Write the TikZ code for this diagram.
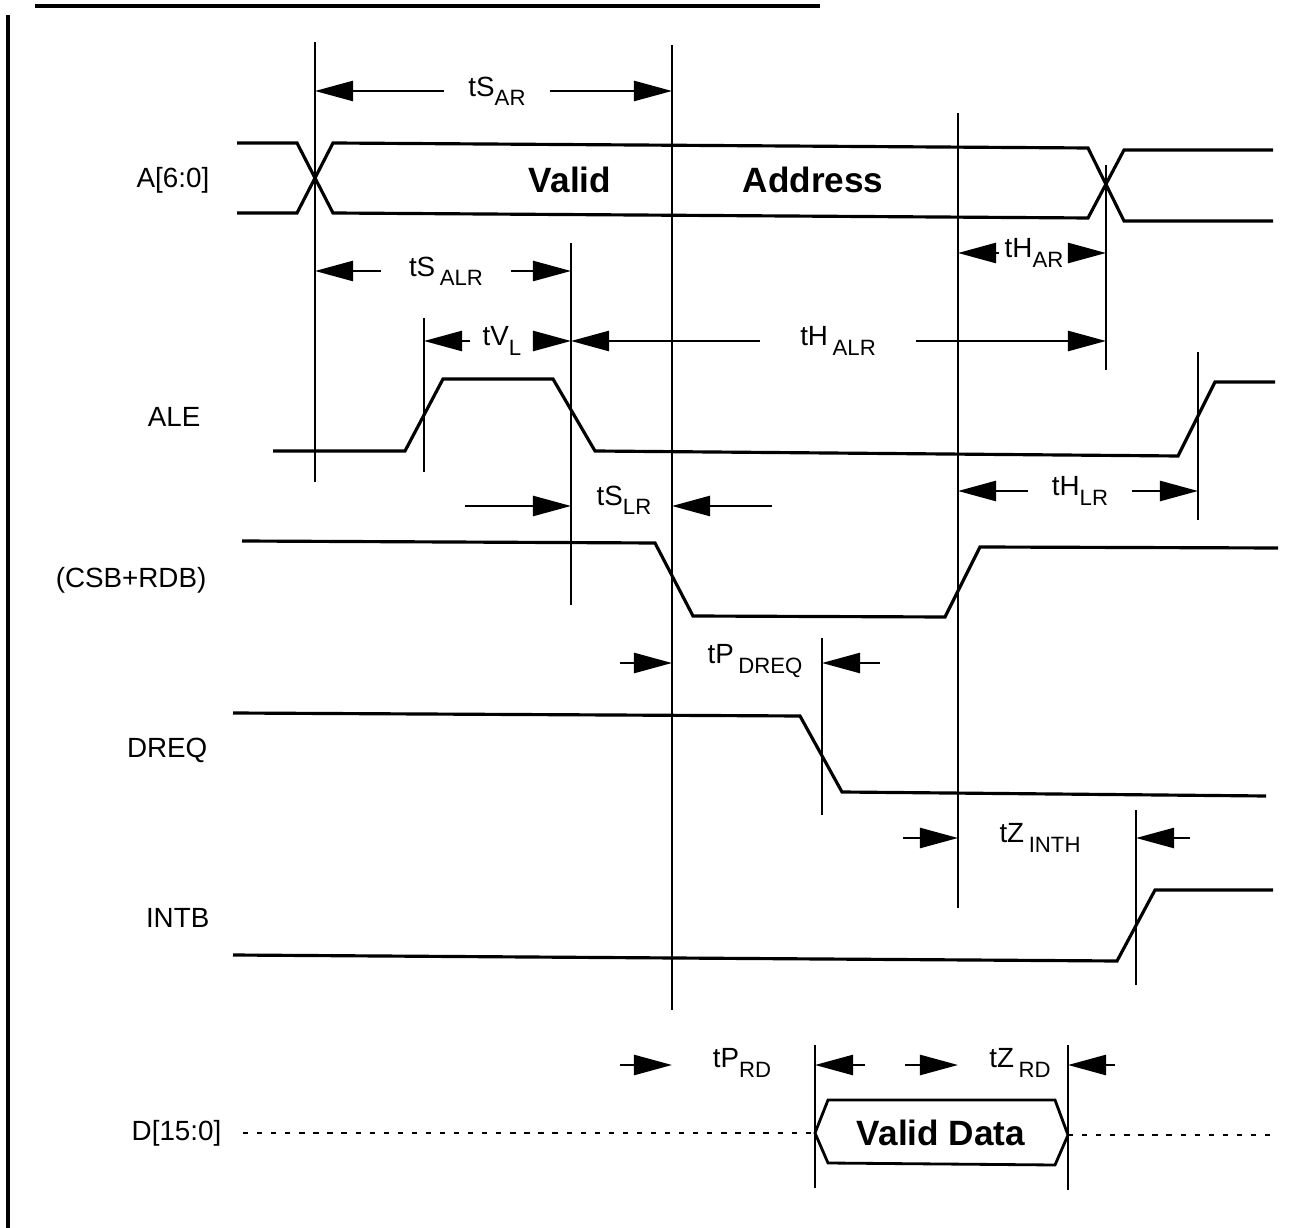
\documentclass[tikz,border=0pt]{standalone}
\usepackage{fontspec}
\setmainfont{Liberation Sans}
\usetikzlibrary{arrows.meta}
\newcommand{\tsub}[1]{\raisebox{-2.6pt}{\fontsize{6.3}{7}\selectfont#1}}

\begin{document}
\begin{tikzpicture}[x=0.01cm,y=-0.01cm,
	wave/.style={line width=0.9pt,line join=miter},
	refline/.style={line width=0.7pt},
	dim/.style={line width=0.7pt,-{Triangle[length=3.8mm,width=2mm]}},
	sig/.style={font=\fontsize{7.9}{9}\selectfont,anchor=east,inner sep=0pt},
	tlbl/.style={font=\fontsize{7.9}{9}\selectfont,inner sep=0pt,minimum width=#1},
	tlbl/.default=0pt,
	big/.style={font=\fontsize{10}{12}\selectfont\bfseries,inner sep=0pt}]
	\useasboundingbox (0,0) rectangle (1300,1228);
	% frame
	\draw[line width=1pt] (8,15) -- (8,1228);
	\draw[line width=1pt] (35,6) -- (820,6);
	% signal names
	\node[sig] (a_lbl) at (210,180) {A[6:0]};
	\node[sig] (ale_lbl) at (201,417) {ALE};
	\node[sig] (csb_lbl) at (207,580) {(CSB+RDB)};
	\node[sig] (dreq_lbl) at (208,750) {DREQ};
	\node[sig] (intb_lbl) at (210,918) {INTB};
	\node[sig] (d_lbl) at (222,1133) {D[15:0]};
	% waveforms
	\draw[wave] (237,143) -- (297,143) -- (333,213) -- (1088,218) -- (1124,150) -- (1273,150);
	\draw[wave] (237,213) -- (297,213) -- (333,143) -- (1088,148) -- (1124,221) -- (1273,221);
	\node[big] (valid) at (570,180) {Valid};
	\node[big] (addr) at (813,180) {Address};
	\draw[wave] (273,451) -- (405,451) -- (443,379) -- (553,379) -- (595,451) -- (1178,456) -- (1215,382) -- (1275,382);
	\draw[wave] (242,541) -- (655,543) -- (693,616) -- (945,617) -- (980,547) -- (1278,548);
	\draw[wave] (233,713) -- (800,716) -- (842,792) -- (1266,796);
	\draw[wave] (233,955) -- (1117,961) -- (1155,890) -- (1273,890);
	\draw[line width=0.5pt,dash pattern=on 1.5pt off 2.5pt] (243,1133) -- (812,1133);
	\draw[line width=0.5pt,dash pattern=on 1.5pt off 2.5pt] (1068,1135) -- (1270,1135);
	\draw[line width=0.8pt] (815,1133) -- (828,1100) -- (1055,1100) -- (1068,1135) -- (1055,1165) -- (828,1163) -- cycle;
	\node[big] (vdata) at (941,1133) {Valid Data};
	% reference lines
	\foreach \n/\x/\ya/\yb in {1/315/42/482, 2/672/45/1010, 3/571/243/605, 4/424/318/472,
		5/958/113/908, 6/1106/165/370, 7/1198/352/520, 8/822/638/815, 9/1136/810/985,
		10/815/1045/1188, 11/1068/1045/1190}
	{
		\coordinate (v_\n) at (\x,\ya);
		\coordinate (v_\n b) at (\x,\yb);
		\draw[refline] (v_\n) -- (v_\n b);
	}
	% timing labels, arrows pointing out
	\node[tlbl=1.05cm] (tsar) at (497,91) {tS\tsub{AR}};
	\node[tlbl=1.28cm] (tsalr) at (446,271) {tS\,\tsub{ALR}};
	\node[tlbl=0.68cm] (thar) at (1034,253) {tH\tsub{AR}};
	\node[tlbl=0.62cm] (tvl) at (502,341) {tV\tsub{L}};
	\node[tlbl=1.55cm] (thalr) at (838,341) {tH\,\tsub{ALR}};
	\node[tlbl=1.03cm] (thlr) at (1080,491) {tH\tsub{LR}};
	\path[dim]
		(tsar.west) edge (tsar.west -| v_1)
		(tsar.east) edge (tsar.east -| v_2)
		(tsalr.west) edge (tsalr.west -| v_1)
		(tsalr.east) edge (tsalr.east -| v_3)
		(thar.west) edge (thar.west -| v_5)
		(thar.east) edge (thar.east -| v_6)
		(tvl.west) edge (tvl.west -| v_4)
		(tvl.east) edge (tvl.east -| v_3)
		(thalr.west) edge (thalr.west -| v_3)
		(thalr.east) edge (thalr.east -| v_6)
		(thlr.west) edge (thlr.west -| v_5)
		(thlr.east) edge (thlr.east -| v_7);
	% timing labels, arrows pointing in
	\node[tlbl] (tslr) at (624,500) {tS\tsub{LR}};
	\node[tlbl] (tpdreq) at (755,661) {tP\,\tsub{DREQ}};
	\node[tlbl] (tzinth) at (1040,838) {tZ\,\tsub{INTH}};
	\node[tlbl] (tprd) at (742,1063) {tP\tsub{RD}};
	\node[tlbl] (tzrd) at (1020,1063) {tZ\,\tsub{RD}};
	\coordinate (tslr_l) at (465,506);
	\coordinate (tslr_r) at (772,506);
	\coordinate (tpdreq_l) at (620,663);
	\coordinate (tpdreq_r) at (880,663);
	\coordinate (tzinth_l) at (903,838);
	\coordinate (tzinth_r) at (1190,838);
	\coordinate (tprd_l) at (620,1065);
	\coordinate (tprd_r) at (865,1065);
	\coordinate (tzrd_l) at (905,1065);
	\coordinate (tzrd_r) at (1115,1065);
	\path[dim]
		(tslr_l) edge (tslr_l -| v_3)
		(tslr_r) edge (tslr_r -| v_2)
		(tpdreq_l) edge (tpdreq_l -| v_2)
		(tpdreq_r) edge (tpdreq_r -| v_8)
		(tzinth_l) edge (tzinth_l -| v_5)
		(tzinth_r) edge (tzinth_r -| v_9)
		(tprd_l) edge (tprd_l -| v_2)
		(tprd_r) edge (tprd_r -| v_10)
		(tzrd_l) edge (tzrd_l -| v_5)
		(tzrd_r) edge (tzrd_r -| v_11);
\end{tikzpicture}
\end{document}
